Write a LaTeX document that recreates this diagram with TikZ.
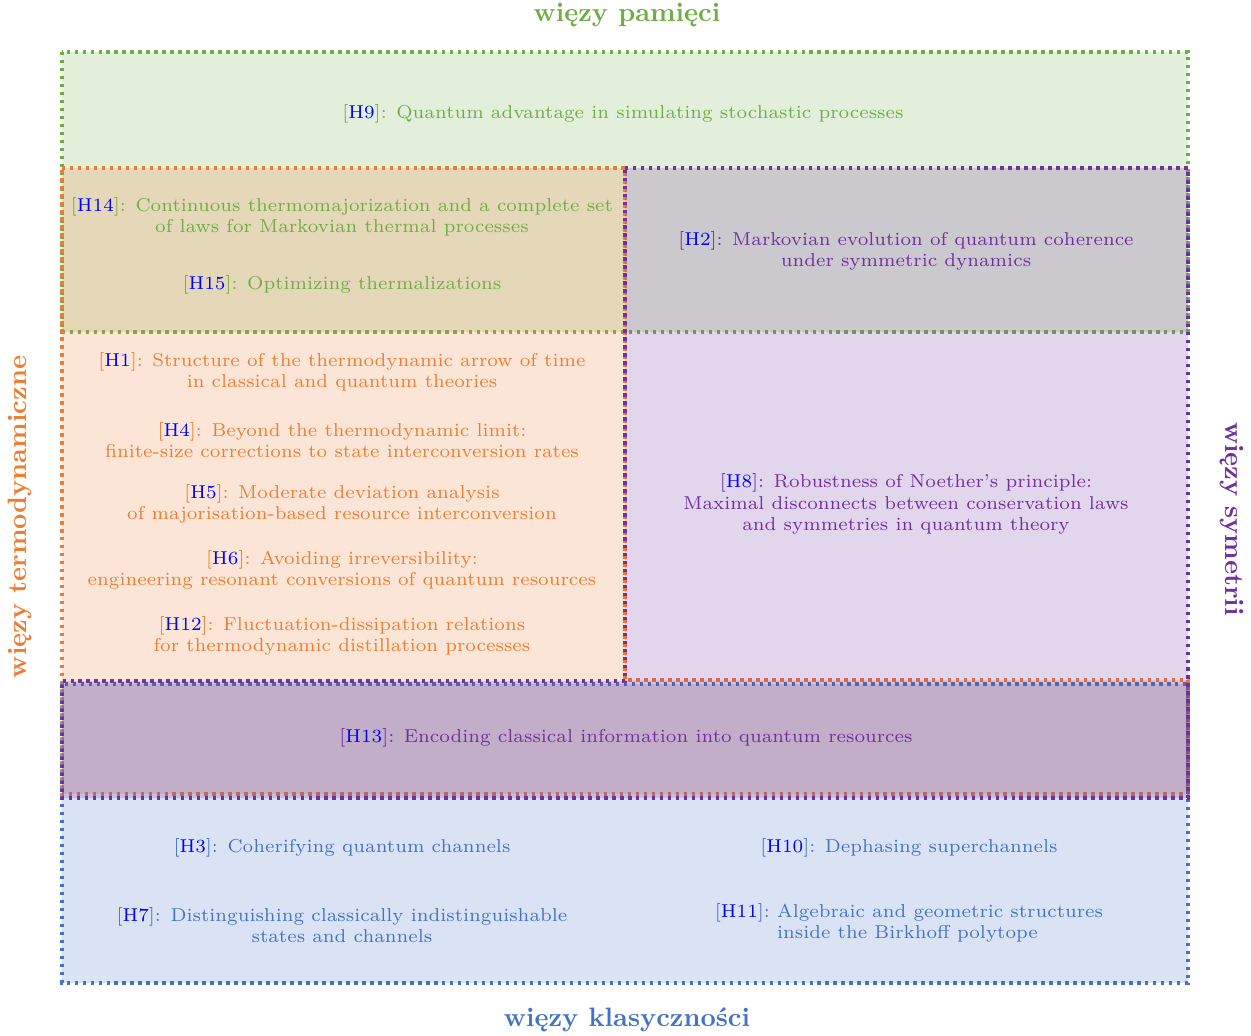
\documentclass[tikz,border=0pt]{standalone}
\usepackage{fontspec}
\usepackage{tikz}
\definecolor{memgreen}{RGB}{112,173,71}
\definecolor{thorange}{RGB}{237,125,49}
\definecolor{sympurple}{RGB}{112,48,160}
\definecolor{clblue}{RGB}{68,114,196}
\tikzstyle{region} = [line width=1.3pt, dash pattern=on 1.3pt off 1.7pt, fill opacity=0.2]
\tikzstyle{hyp} = [align=center, font=\scriptsize, inner sep=0pt]
\tikzstyle{side} = [font=\normalsize\bfseries, inner sep=0pt]
\newcommand{\hcite}[1]{[\textcolor{blue}{H#1}]}

\begin{document}
\begin{tikzpicture}[x=0.0132cm, y=-0.0132cm]
    \useasboundingbox (0,0) rectangle (1251,1035);

    % constraint regions
    \path[region, draw=memgreen, fill=memgreen] (62,52) rectangle (1188,332);
    \path[region, draw=thorange, fill=thorange]
        (62,168) -- (625,168) -- (625,680) -- (1188,680) -- (1188,794) -- (62,794) -- cycle;
    \path[region, draw=clblue, fill=clblue] (62,684) rectangle (1188,983);
    \path[region, draw=sympurple, fill=sympurple]
        (625,168) -- (1188,168) -- (1188,798) -- (62,798) -- (62,681) -- (625,681) -- cycle;

    % memory
    \node (h9) [hyp, text=memgreen] at (623,114) {\hcite{9}: Quantum advantage in simulating stochastic processes};
    \node (h14) [hyp, text=memgreen] at (342,217) {\hcite{14}: Continuous thermomajorization and a complete set\\of laws for Markovian thermal processes};
    \node (h15) [hyp, text=memgreen] at (342,285) {\hcite{15}: Optimizing thermalizations};

    % symmetry
    \node (h2) [hyp, text=sympurple] at (906,251) {\hcite{2}: Markovian evolution of quantum coherence\\under symmetric dynamics};
    \node (h8) [hyp, text=sympurple] at (906,504) {\hcite{8}: Robustness of Noether's principle:\\Maximal disconnects between conservation laws\\and symmetries in quantum theory};

    % thermodynamics
    \node (h1) [hyp, text=thorange] at (342,372) {\hcite{1}: Structure of the thermodynamic arrow of time\\in classical and quantum theories};
    \node (h4) [hyp, text=thorange] at (342,440) {\hcite{4}: Beyond the thermodynamic limit:\\finite-size corrections to state interconversion rates};
    \node (h5) [hyp, text=thorange] at (342,504) {\hcite{5}: Moderate deviation analysis\\of majorisation-based resource interconversion};
    \node (h6) [hyp, text=thorange] at (342,570) {\hcite{6}: Avoiding irreversibility:\\engineering resonant conversions of quantum resources};
    \node (h12) [hyp, text=thorange] at (342,636) {\hcite{12}: Fluctuation-dissipation relations\\for thermodynamic distillation processes};

    \node (h13) [hyp, text=sympurple] at (626,738) {\hcite{13}: Encoding classical information into quantum resources};

    % classicality
    \node (h3) [hyp, text=clblue] at (342,848) {\hcite{3}: Coherifying quantum channels};
    \node (h7) [hyp, text=clblue] at (342,925) {\hcite{7}: Distinguishing classically indistinguishable\\states and channels};
    \node (h10) [hyp, text=clblue] at (909,848) {\hcite{10}: Dephasing superchannels};
    \node (h11) [hyp, text=clblue] at (909,924) {\begin{tabular}{@{}r@{\ }l@{}}\hcite{11}: & Algebraic and geometric structures\\ & inside the Birkhoff polytope\end{tabular}};

    % side labels
    \node (mem) [side, text=memgreen] at (627,15) {więzy pamięci};
    \node (therm) [side, text=thorange, rotate=90] at (20,517) {więzy termodynamiczne};
    \node (sym) [side, text=sympurple, rotate=-90] at (1232,519) {więzy symetrii};
    \node (cls) [side, text=clblue] at (627,1020) {więzy klasyczności};
\end{tikzpicture}
\end{document}
